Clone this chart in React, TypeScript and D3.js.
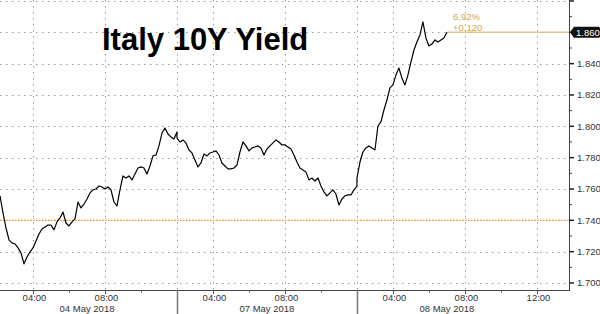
import React from "react";
import * as d3 from "d3";

const W = 600;
const H = 314;
const PLOT_R = 569;
const PLOT_B = 290;

const TITLE = "Italy 10Y Yield";
const DAY_LABELS = ["04 May 2018", "07 May 2018", "08 May 2018"];
const SESSION_START_H = 2;
const SESSION_LEN_H = 10;
const STEP_MIN = 10;
// [day, hour, minute] of first sample in each day's series
const SERIES_START: [number, number, number][] = [
  [0, 2, 10],
  [1, 2, 0],
  [2, 2, 0],
];
const X_DOMAIN: [number, number, number][] = [
  [0, 2, 10],
  [2, 13, 47],
];

const yield04May = [
  1.7556, 1.7447, 1.7351, 1.7275, 1.7256, 1.7249, 1.7224, 1.7192, 1.7122, 1.7166,
  1.7198, 1.7224, 1.7268, 1.7313, 1.7345, 1.7358, 1.737, 1.737, 1.7339, 1.739,
  1.7415, 1.7453, 1.7383, 1.7364, 1.739, 1.7409, 1.7517, 1.7479, 1.7504, 1.7536,
  1.7575, 1.7594, 1.76, 1.7619, 1.7613, 1.76, 1.7613, 1.7594, 1.7517, 1.7492,
  1.7594, 1.7683, 1.767, 1.7683, 1.7658, 1.7696, 1.7734, 1.7741, 1.7734, 1.7696,
  1.7747, 1.7811, 1.7817, 1.7875, 1.7957, 1.7989, 1.7951, 1.7932, 1.7919, 1.7964,
];
const yield07May = [
  1.7926, 1.79, 1.7913, 1.7894, 1.7849, 1.783, 1.7785, 1.7741, 1.7766, 1.7823,
  1.7811, 1.783, 1.7836, 1.7843, 1.7817, 1.7766, 1.7747, 1.7728, 1.7728, 1.7734,
  1.7753, 1.7836, 1.79, 1.7875, 1.7843, 1.7862, 1.7868, 1.7875, 1.7862, 1.7817,
  1.7855, 1.7875, 1.7894, 1.7913, 1.79, 1.7881, 1.7881, 1.7868, 1.7855, 1.7817,
  1.7772, 1.7734, 1.7721, 1.7709, 1.7658, 1.767, 1.7651, 1.767, 1.7619, 1.7581,
  1.7556, 1.7575, 1.7594, 1.7568, 1.7498, 1.7536, 1.7556, 1.7562, 1.7562, 1.7594,
  1.7619,
];
const yield08May = [
  1.767, 1.7772, 1.7836, 1.7862, 1.7875, 1.7862, 1.7849, 1.8002, 1.8028, 1.8104,
  1.8168, 1.8245, 1.8264, 1.8327, 1.8372, 1.8308, 1.8264, 1.8327, 1.841, 1.8487,
  1.8538, 1.8583, 1.8666, 1.8564, 1.8513, 1.8525, 1.8551, 1.8538, 1.8551, 1.8564,
  1.86,
];
const SERIES = [yield04May, yield07May, yield08May];

const PREV_CLOSE = 1.74;
const LAST = 1.86;
const CHANGE_PCT = "6.92%";
const CHANGE_ABS = "+0.120";

const Y_MAJOR = [1.7, 1.72, 1.74, 1.76, 1.78, 1.8, 1.82, 1.84, 1.86, 1.88];
const Y_LABELS = ["1.700", "1.720", "1.740", "1.760", "1.780", "1.800", "1.820", "1.840", "1.860", ""];
const Y_MINOR = [1.71, 1.73, 1.75, 1.77, 1.79, 1.81, 1.83, 1.85, 1.87];

const X_MAJOR: [number, number][] = [
  [0, 4], [0, 8], [1, 4], [1, 8], [2, 4], [2, 8], [2, 12],
];
const X_MAJOR_LABELS = ["04:00", "08:00", "04:00", "08:00", "04:00", "08:00", "12:00"];
const X_MINOR: [number, number][] = [
  [0, 6], [0, 10], [1, 6], [1, 10], [2, 6], [2, 10],
];
const DAY_BREAKS: [number, number][] = [
  [1, 2],
  [2, 2],
];
const DAY_LABEL_HOUR = 7;

const sessionPos = (day: number, h: number, m = 0) =>
  day * SESSION_LEN_H + h + m / 60 - SESSION_START_H;

const FONT = "'Liberation Sans', Arial, sans-serif";

export default function App() {
  const x = d3
    .scaleLinear()
    .domain([sessionPos(...X_DOMAIN[0]), sessionPos(...X_DOMAIN[1])])
    .range([0, PLOT_R]);
  const y = d3.scaleLinear().domain([1.7, 1.86]).range([283, 32.3]);

  const points: [number, number][] = [];
  SERIES.forEach((vals, d) => {
    const [day, h, m] = SERIES_START[d];
    vals.forEach((v, i) => {
      points.push([sessionPos(day, h, m + i * STEP_MIN), v]);
    });
  });
  const line = d3
    .line<[number, number]>()
    .x((p) => x(p[0]))
    .y((p) => y(p[1]));
  const lastX = x(points[points.length - 1][0]);

  const vGrid = [...X_MAJOR, ...DAY_BREAKS].map(([d, h]) => x(sessionPos(d, h)));
  const tagY = y(LAST);

  return (
    <div style={{ position: "fixed", left: 0, top: 0, width: W, height: H, background: "#fff" }}>
      <svg width={W} height={H} style={{ display: "block" }}>
        <rect width={W} height={H} fill="#fff" />
        {/* horizontal grid */}
        {Y_MAJOR.map((v) => (
          <line
            key={"hg" + v}
            x1={0}
            x2={PLOT_R}
            y1={Math.round(y(v)) + 0.5}
            y2={Math.round(y(v)) + 0.5}
            stroke="#9a9a9a"
            strokeWidth={1}
            strokeDasharray="1.5,4.5"
          />
        ))}
        {/* vertical grid */}
        {vGrid.map((vx, i) => (
          <line
            key={"vg" + i}
            x1={Math.round(vx) + 0.5}
            x2={Math.round(vx) + 0.5}
            y1={0}
            y2={PLOT_B}
            stroke="#9a9a9a"
            strokeWidth={1}
            strokeDasharray="1.5,4.5"
          />
        ))}
        {/* previous close */}
        <line
          x1={0}
          x2={PLOT_R}
          y1={y(PREV_CLOSE)}
          y2={y(PREV_CLOSE)}
          stroke="#e8941f"
          strokeWidth={1.3}
          strokeDasharray="1.5,1.5"
        />
        {/* last price line */}
        <line x1={lastX} x2={PLOT_R} y1={tagY} y2={tagY} stroke="#e2c68c" strokeWidth={1.5} />
        {/* series */}
        <path d={line(points) || ""} fill="none" stroke="#000" strokeWidth={1.2} strokeLinejoin="round" />

        {/* title */}
        <text x={102} y={50} fontFamily={FONT} fontWeight="bold" fontSize={31} fill="#000">
          {TITLE}
        </text>

        {/* annotation */}
        <text x={453} y={19.5} fontFamily={FONT} fontSize={9.5} fill="#d5a64c">
          {CHANGE_PCT}
        </text>
        <text x={453} y={31} fontFamily={FONT} fontSize={9.5} fill="#d5a64c">
          {CHANGE_ABS}
        </text>

        {/* axes */}
        <line x1={PLOT_R + 0.5} x2={PLOT_R + 0.5} y1={0} y2={PLOT_B} stroke="#444" strokeWidth={1} />
        <line x1={0} x2={PLOT_R + 1} y1={PLOT_B + 0.5} y2={PLOT_B + 0.5} stroke="#444" strokeWidth={1} />

        {/* y ticks */}
        {Y_MAJOR.map((v, i) => (
          <g key={"yt" + v}>
            <line x1={PLOT_R} x2={PLOT_R + 5} y1={y(v)} y2={y(v)} stroke="#222" strokeWidth={1.5} />
            {Y_LABELS[i] && v !== LAST ? (
              <text
                x={577}
                y={y(v) + 3.4}
                fontFamily={FONT}
                fontSize={9.5}
                fill="#333"
              >
                {Y_LABELS[i]}
              </text>
            ) : null}
          </g>
        ))}
        {Y_MINOR.map((v) => (
          <line key={"ym" + v} x1={PLOT_R} x2={PLOT_R + 3} y1={y(v)} y2={y(v)} stroke="#444" strokeWidth={1} />
        ))}
        {/* last value tag */}
        <path
          d={`M${PLOT_R + 1},${tagY} L${PLOT_R + 5},${tagY - 5.5} H${W - 1.5} Q${W},${tagY - 5.5} ${W},${tagY - 4} V${tagY + 4} Q${W},${tagY + 5.5} ${W - 1.5},${tagY + 5.5} H${PLOT_R + 5} Z`}
          fill="#111"
        />
        <text x={576} y={tagY + 3.4} fontFamily={FONT} fontSize={9.5} fill="#fff">
          {Y_LABELS[Y_MAJOR.indexOf(LAST)]}
        </text>

        {/* x ticks */}
        {X_MAJOR.map(([d, h], i) => {
          const px = Math.round(x(sessionPos(d, h))) + 0.5;
          return (
            <g key={"xt" + i}>
              <line x1={px} x2={px} y1={PLOT_B} y2={PLOT_B + 4} stroke="#555" strokeWidth={1} />
              <text
                x={px + 1}
                y={301}
                textAnchor="middle"
                fontFamily={FONT}
                fontSize={9.5}
                fill="#333"
              >
                {X_MAJOR_LABELS[i]}
              </text>
            </g>
          );
        })}
        {X_MINOR.map(([d, h], i) => {
          const px = Math.round(x(sessionPos(d, h))) + 0.5;
          return <line key={"xm" + i} x1={px} x2={px} y1={PLOT_B} y2={PLOT_B + 2.5} stroke="#555" strokeWidth={1} />;
        })}
        {DAY_BREAKS.map(([d, h], i) => {
          const px = Math.round(x(sessionPos(d, h))) + 0.5;
          return <line key={"db" + i} x1={px} x2={px} y1={PLOT_B} y2={H} stroke="#777" strokeWidth={1.5} />;
        })}
        {DAY_LABELS.map((lab, d) => (
          <text
            key={lab}
            x={x(sessionPos(d, DAY_LABEL_HOUR))}
            y={312}
            textAnchor="middle"
            fontFamily={FONT}
            fontSize={9.5}
            fill="#333"
          >
            {lab}
          </text>
        ))}
      </svg>
    </div>
  );
}
